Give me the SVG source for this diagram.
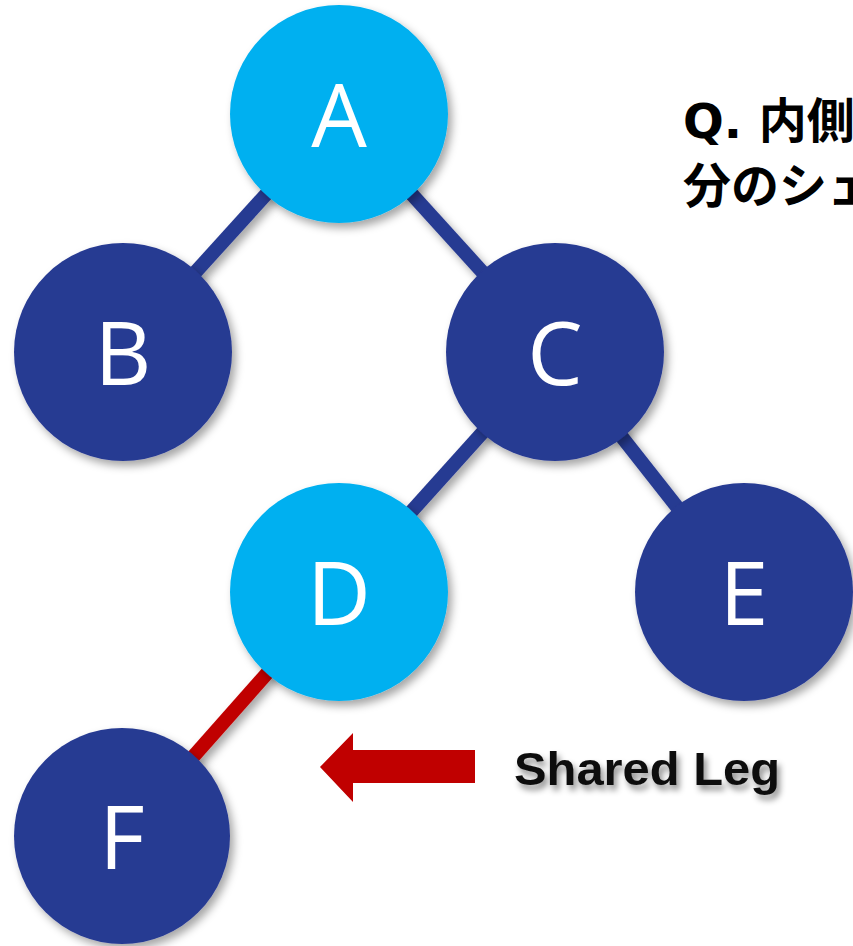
<svg xmlns="http://www.w3.org/2000/svg" width="853" height="946" viewBox="0 0 853 946">
<defs>
<filter id="sh" x="-20%" y="-20%" width="150%" height="150%">
<feDropShadow dx="4" dy="5" stdDeviation="4" flood-color="#000" flood-opacity="0.35"/>
</filter>
<filter id="tsh" x="-10%" y="-30%" width="130%" height="180%">
<feDropShadow dx="3" dy="5" stdDeviation="3" flood-color="#000" flood-opacity="0.45"/>
</filter>
</defs>
<style>
.edge{stroke:#283A92;stroke-width:14;fill:none;filter:url(#sh)}
.red{stroke:#C00000}
.light{fill:#00B0F0;filter:url(#sh)}
.dark{fill:#283A92;filter:url(#sh)}
.lbl{fill:#fff;font-family:"Open Sans","Liberation Sans",sans-serif;font-size:88px;text-anchor:middle}
.q{font-family:"Noto Sans CJK JP","Liberation Sans",sans-serif;font-weight:bold;font-size:48px;fill:#000}
.qa{font-family:"DejaVu Sans","Noto Sans CJK JP",sans-serif}
.sl{font-family:"Liberation Sans",sans-serif;font-weight:bold;font-size:46px;fill:#111;filter:url(#tsh)}
</style>
<rect width="853" height="946" fill="#fff"/>
<g id="connectors">
<line class="edge" x1="339" y1="114" x2="123" y2="352"/>
<line class="edge" x1="339" y1="114" x2="555" y2="352"/>
<line class="edge" x1="555" y1="352" x2="339" y2="592"/>
<line class="edge" x1="555" y1="352" x2="744" y2="592"/>
<line class="edge red" x1="339" y1="592" x2="123" y2="836"/>
</g>
<g id="node-A"><circle class="light" cx="339" cy="114" r="109"/><text class="lbl" x="339" y="147">A</text></g>
<g id="node-B"><circle class="dark" cx="123" cy="352" r="109"/><text class="lbl" x="123" y="385">B</text></g>
<g id="node-C"><circle class="dark" cx="555" cy="352" r="109"/><text class="lbl" x="555" y="385">C</text></g>
<g id="node-D"><circle class="light" cx="339" cy="592" r="109"/><text class="lbl" x="339" y="625">D</text></g>
<g id="node-E"><circle class="dark" cx="744" cy="592" r="109"/><text class="lbl" x="744" y="625">E</text></g>
<g id="node-F"><circle class="dark" cx="122" cy="836" r="108"/><text class="lbl" x="122" y="869">F</text></g>
<g id="question">
<text class="q" x="683" y="138"><tspan class="qa">Q. </tspan>内側</text>
<text class="q" x="683" y="203">分のシェ</text>
</g>
<g id="shared-leg">
<polygon points="320,767 353,733 353,750 475,750 475,783 353,783 353,802" fill="#C00000"/>
<text class="sl" x="514" y="785" textLength="266" lengthAdjust="spacingAndGlyphs">Shared Leg</text>
</g>
</svg>
